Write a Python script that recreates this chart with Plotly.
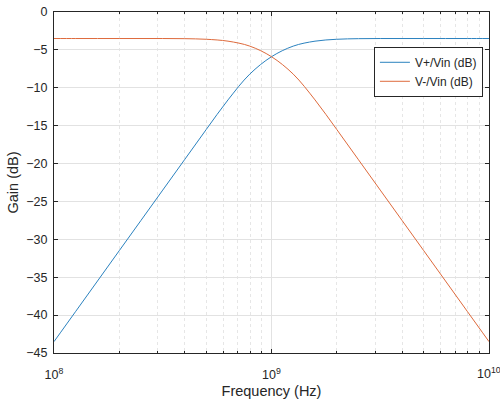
import plotly.graph_objects as go

# Frequency points (Hz), 10 per decade from 1e8 to 1e10
freq = [1.0e8, 1.259e8, 1.585e8, 1.995e8, 2.512e8, 3.162e8, 3.981e8, 5.012e8, 6.310e8, 7.943e8,
        1.0e9, 1.259e9, 1.585e9, 1.995e9, 2.512e9, 3.162e9, 3.981e9, 5.012e9, 6.310e9, 7.943e9, 1.0e10]
# Gains (dB)
v_plus = [-43.5, -39.5, -35.5, -31.5, -27.5, -23.5, -19.5, -15.5, -11.6, -8.2,
          -5.9, -4.5, -3.85, -3.6, -3.52, -3.5, -3.5, -3.5, -3.5, -3.5, -3.5]
v_minus = [-3.5, -3.5, -3.5, -3.5, -3.5, -3.5, -3.52, -3.6, -3.85, -4.5,
           -5.9, -8.2, -11.6, -15.5, -19.5, -23.5, -27.5, -31.5, -35.5, -39.5, -43.5]
series_names = ["V+/Vin (dB)", "V-/Vin (dB)"]
x_tickvals = [1e8, 1e9, 1e10]
x_ticktext = ["10<sup>8</sup>", "10<sup>9</sup>", "10<sup>10</sup>"]
x_minor = [m * 10 ** e for e in (8, 9) for m in range(2, 10)]
y_tickvals = [0, -5, -10, -15, -20, -25, -30, -35, -40, -45]

fig = go.Figure()
fig.add_trace(go.Scatter(x=freq, y=v_plus, mode="lines", name=series_names[0],
                         line=dict(color="#2b82bf", width=1, shape="spline", smoothing=1.0)))
fig.add_trace(go.Scatter(x=freq, y=v_minus, mode="lines", name=series_names[1],
                         line=dict(color="#de6a3c", width=1, shape="spline", smoothing=1.0)))

axcol = "#262626"
tick_size = 12.5

# the last decade label overflows the figure edge (clipped as in the reference)
fig.add_annotation(x=10, y=0, xref="x", yref="paper", text=x_ticktext[-1],
                   showarrow=False, xanchor="center", yanchor="top", yshift=-10,
                   font=dict(size=tick_size, color=axcol))

fig.update_layout(
    width=500, height=403,
    margin=dict(l=54, r=11, t=12, b=50),
    paper_bgcolor="white", plot_bgcolor="white",
    font=dict(family="Liberation Sans, Arial, sans-serif", size=12, color=axcol),
    showlegend=True,
    legend=dict(x=0.986, y=0.898, xanchor="right", yanchor="top",
                bgcolor="white", bordercolor=axcol, borderwidth=1,
                font=dict(size=12, color=axcol), tracegroupgap=0),
    xaxis=dict(
        type="log", range=[8, 10], automargin=False,
        tickvals=x_tickvals, ticktext=x_ticktext[:-1] + [""],
        ticks="inside", ticklen=4, tickcolor=axcol, ticklabelstandoff=10,
        showline=True, linecolor=axcol, linewidth=1, mirror="ticks",
        showgrid=True, gridcolor="#e2e2e2", gridwidth=1,
        zeroline=False,
        minor=dict(tickvals=x_minor, ticks="inside", ticklen=2, tickcolor=axcol,
                   showgrid=True, gridcolor="#e6e6e6", griddash="dot", gridwidth=1),
        title=dict(text="Frequency (Hz)", font=dict(size=14.5, color=axcol), standoff=4),
        tickfont=dict(size=tick_size, color=axcol),
    ),
    yaxis=dict(
        range=[-45, 0], tickvals=y_tickvals, automargin=False,
        ticks="inside", ticklen=4, tickcolor=axcol, ticklabelstandoff=3,
        showline=True, linecolor=axcol, linewidth=1, mirror="ticks",
        showgrid=True, gridcolor="#e2e2e2", gridwidth=1,
        zeroline=False,
        title=dict(text="Gain (dB)", font=dict(size=14.5, color=axcol), standoff=4),
        tickfont=dict(size=tick_size, color=axcol),
    ),
)

fig.write_html("out.html")
